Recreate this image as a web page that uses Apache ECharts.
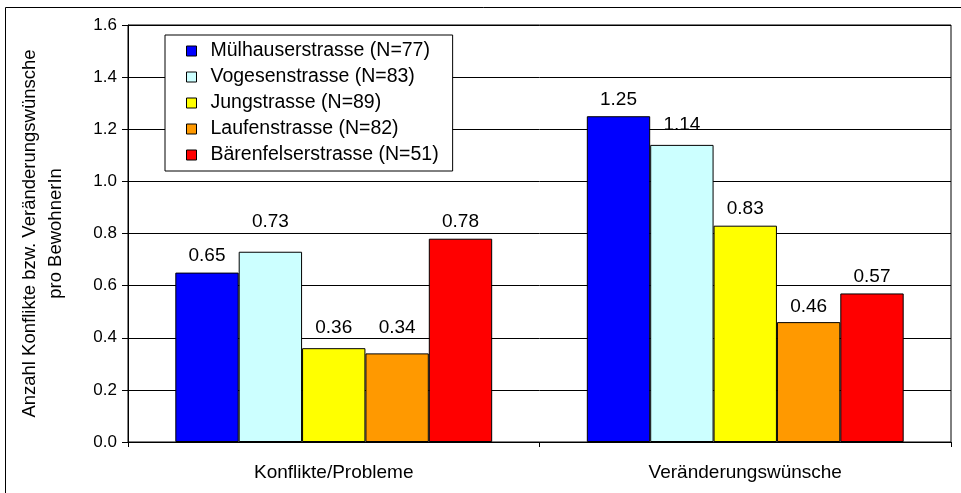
<!DOCTYPE html>
<html>
<head>
<meta charset="utf-8">
<script src="https://cdn.jsdelivr.net/npm/echarts@6/dist/echarts.min.js"></script>
<style>
  html, body { margin: 0; padding: 0; background: #fff; }
  #chart { width: 961px; height: 493px; }
</style>
</head>
<body>
<div id="chart"></div>
<script>
// Kategorien und Werte
var categories = ["Konflikte/Probleme", "Veränderungswünsche"];
var streets = [
  "Mülhauserstrasse (N=77)",
  "Vogesenstrasse (N=83)",
  "Jungstrasse (N=89)",
  "Laufenstrasse (N=82)",
  "Bärenfelserstrasse (N=51)"
];
var muelhauser = [0.65, 1.25];
var vogesen = [0.73, 1.14];
var jung = [0.36, 0.83];
var laufen = [0.34, 0.46];
var baerenfelser = [0.78, 0.57];

var colors = ["#0000ff", "#ccffff", "#ffff00", "#ff9900", "#ff0000"];
// Abstand der Beschriftung über dem Balken (wie im Original verschoben)
var labelDist = [[7, 7], [20, 11], [11, 7], [16, 6], [7, 7]];

var allValues = [muelhauser, vogesen, jung, laufen, baerenfelser];
var font = "'Liberation Sans', Arial, sans-serif";

var series = allValues.map(function (vals, i) {
  return {
    name: streets[i],
    type: "bar",
    barGap: "0%",
    barCategoryGap: "23%",
    itemStyle: { color: colors[i], borderColor: "#000", borderWidth: 1 },
    data: vals.map(function (v, j) {
      return {
        value: v,
        label: { distance: labelDist[i][j] }
      };
    }),
    label: {
      show: true,
      position: "top",
      color: "#000",
      fontFamily: font,
      fontSize: 19,
      lineHeight: 19,
      formatter: function (p) { return p.value.toFixed(2); }
    }
  };
});

var chart = echarts.init(document.getElementById("chart"));
chart.setOption({
  animation: false,
  backgroundColor: "#fff",
  // Rahmen um das Diagramm (rechts/unten abgeschnitten)
  graphic: [{
    type: "rect",
    shape: { x: 5.5, y: 7.5, width: 970, height: 500 },
    style: { fill: null, stroke: "#000", lineWidth: 1 },
    z: -1
  }],
  grid: {
    left: 128, right: 10, top: 25, bottom: 51,
    show: true, borderColor: "#000", borderWidth: 1
  },
  legend: {
    orient: "vertical",
    left: 165, top: 35,
    padding: [6, 14, 6, 21],
    backgroundColor: "#fff",
    borderColor: "#000",
    borderWidth: 1,
    borderRadius: 0,
    itemWidth: 10, itemHeight: 10,
    itemGap: 6,
    itemTextGap: 5,
    icon: "rect",
    itemStyle: { borderColor: "#000", borderWidth: 1 },
    textStyle: {
      fontFamily: font, fontSize: 19.5, color: "#000", lineHeight: 19,
      padding: [0, 0, 0, 9]
    },
    z: 10,
    data: streets
  },
  xAxis: {
    type: "category",
    data: categories,
    axisLine: { lineStyle: { color: "#000" } },
    axisTick: { show: true, length: 5, lineStyle: { color: "#000" } },
    axisLabel: { color: "#000", fontFamily: font, fontSize: 19, margin: 21 }
  },
  yAxis: {
    type: "value",
    min: 0, max: 1.6, interval: 0.2,
    name: "Anzahl Konflikte bzw. Veränderungswünsche\npro BewohnerIn",
    nameLocation: "middle",
    nameGap: 59,
    nameTextStyle: { color: "#000", fontFamily: font, fontSize: 18.5, lineHeight: 26 },
    axisLine: { show: true, lineStyle: { color: "#000" } },
    axisTick: { show: true, length: 6, lineStyle: { color: "#000" } },
    axisLabel: {
      color: "#000", fontFamily: font, fontSize: 17, margin: 11,
      formatter: function (v) { return v.toFixed(1); }
    },
    splitLine: { show: true, lineStyle: { color: "#000", width: 1 } }
  },
  series: series
});
</script>
</body>
</html>
